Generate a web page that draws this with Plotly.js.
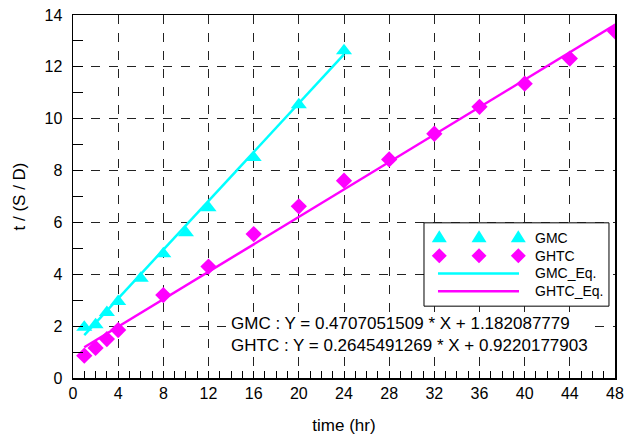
<!DOCTYPE html>
<html><head><meta charset="utf-8">
<script src="https://cdn.plot.ly/plotly-3.0.1.min.js"></script>
<style>html,body{margin:0;padding:0;background:#fff}#chart{width:624px;height:436px}</style>
</head><body><div id="chart"></div><script>
// ---- data ----
const gmcX  = [1, 2, 3, 4, 6, 8, 10, 12, 16, 20, 24];
const gmcY  = [1.96, 2.05, 2.53, 2.95, 3.85, 4.79, 5.60, 6.57, 8.50, 10.54, 12.62];
const ghtcX = [1, 2, 3, 4, 8, 12, 16, 20, 24, 28, 32, 36, 40, 44, 48];
const ghtcY = [0.86, 1.16, 1.50, 1.85, 3.20, 4.30, 5.55, 6.62, 7.61, 8.43, 9.42, 10.46, 11.35, 12.32, 13.37];
// fitted equations shown on the chart
const gmcSlope = 0.4707051509, gmcIntercept = 1.182087779;
const ghtcSlope = 0.2645491269, ghtcIntercept = 0.9220177903;
const gmcFitX = [1, 24];
const ghtcFitX = [1, 48];
const gmcFitY = gmcFitX.map(x => gmcSlope * x + gmcIntercept);
const ghtcFitY = ghtcFitX.map(x => ghtcSlope * x + ghtcIntercept);
const legendLabels = ["GMC", "GHTC", "GMC_Eq.", "GHTC_Eq."];
const eqText = "GMC : Y = 0.4707051509 * X + 1.182087779<br>GHTC : Y = 0.2645491269 * X + 0.9220177903";
const xTitle = "time (hr)";
const yTitle = "t / (S / D)";

const CYAN = "#00FFFF", MAG = "#FF00FF";
const FONT = "Liberation Sans, Arial, Helvetica, sans-serif";

const traces = [
  {x: gmcFitX, y: gmcFitY, mode: "lines", line: {color: CYAN, width: 2.5}, name: legendLabels[2], showlegend: false, hoverinfo: "skip"},
  {x: ghtcFitX, y: ghtcFitY, mode: "lines", line: {color: MAG, width: 2.5}, name: legendLabels[3], showlegend: false, hoverinfo: "skip"},
  {x: gmcX, y: gmcY, mode: "markers", marker: {symbol: "triangle-up", size: 14, color: CYAN}, name: legendLabels[0], showlegend: false},
  {x: ghtcX, y: ghtcY, mode: "markers", marker: {symbol: "diamond", size: 12.5, color: MAG}, name: legendLabels[1], showlegend: false}
];

// custom legend (box, symbols, labels) in paper coordinates
const L = {x0: 0.6476, x1: 0.9889, y0: 0.1979, y1: 0.4275,
           rows: [0.3862, 0.3365, 0.288, 0.2393],
           mx: [0.6758, 0.7491, 0.8216], lx0: 0.6734, lx1: 0.8229, tx: 0.8487};
const shapes = [{type: "rect", xref: "paper", yref: "paper", x0: L.x0, x1: L.x1, y0: L.y0, y1: L.y1,
                 line: {color: "#000", width: 1}, fillcolor: "#fff", layer: "above"}];
const tri = "M-7.5,-4.5 L7.5,-4.5 L0,7.5 Z";
const dia = "M0,-7.5 L7.5,0 L0,7.5 L-7.5,0 Z";
L.mx.forEach(mx => {
  shapes.push({type: "path", xref: "paper", yref: "paper", xsizemode: "pixel", ysizemode: "pixel",
               xanchor: mx, yanchor: L.rows[0], path: tri, fillcolor: CYAN, line: {width: 0}, layer: "above"});
  shapes.push({type: "path", xref: "paper", yref: "paper", xsizemode: "pixel", ysizemode: "pixel",
               xanchor: mx, yanchor: L.rows[1], path: dia, fillcolor: MAG, line: {width: 0}, layer: "above"});
});
shapes.push({type: "line", xref: "paper", yref: "paper", x0: L.lx0, x1: L.lx1, y0: L.rows[2], y1: L.rows[2], line: {color: CYAN, width: 2.5}, layer: "above"});
shapes.push({type: "line", xref: "paper", yref: "paper", x0: L.lx0, x1: L.lx1, y0: L.rows[3], y1: L.rows[3], line: {color: MAG, width: 2.5}, layer: "above"});

const annotations = legendLabels.map((t, i) => ({
  text: t, xref: "paper", yref: "paper", x: L.tx, y: L.rows[i], xanchor: "left", yanchor: "middle",
  showarrow: false, font: {family: FONT, size: 14, color: "#000"}
}));
annotations.push({text: eqText, xref: "paper", yref: "paper", x: 0.2878, y: 0.1207, xanchor: "left", yanchor: "middle",
  align: "left", showarrow: false, bgcolor: "#fff", font: {family: FONT, size: 17, color: "#000"}});

const layout = {
  width: 624, height: 436,
  margin: {l: 73, r: 9, t: 15, b: 58.2, pad: 0},
  paper_bgcolor: "#fff", plot_bgcolor: "#fff",
  font: {family: FONT, color: "#000"},
  showlegend: false,
  xaxis: {
    range: [0, 48], autorange: false, dtick: 4, tick0: 0,
    ticks: "inside", ticklen: 7, tickwidth: 1, tickcolor: "#000",
    showline: true, mirror: true, linecolor: "#000", linewidth: 1.5,
    showgrid: true, gridcolor: "#222", gridwidth: 1, griddash: "dash",
    zeroline: false,
    minor: {dtick: 1, ticks: "inside", ticklen: 7, tickwidth: 1, tickcolor: "#000", showgrid: false},
    tickfont: {size: 16, family: FONT, color: "#000"},
    title: {text: xTitle, font: {size: 17, family: FONT, color: "#000"}, standoff: 18}
  },
  yaxis: {
    range: [0, 14], autorange: false, dtick: 2, tick0: 0,
    ticks: "inside", ticklen: 10, tickwidth: 1, tickcolor: "#000",
    showline: true, mirror: true, linecolor: "#000", linewidth: 1.5,
    showgrid: true, gridcolor: "#222", gridwidth: 1, griddash: "dash",
    zeroline: false,
    minor: {dtick: 1, ticks: "inside", ticklen: 10, tickwidth: 1, tickcolor: "#000", showgrid: false},
    tickfont: {size: 16, family: FONT, color: "#000"},
    ticklabelstandoff: 6,
    title: {text: yTitle, font: {size: 17, family: FONT, color: "#000"}, standoff: 14}
  },
  shapes: shapes,
  annotations: annotations
};

Plotly.newPlot("chart", traces, layout, {displayModeBar: false, staticPlot: true});
</script></body></html>
